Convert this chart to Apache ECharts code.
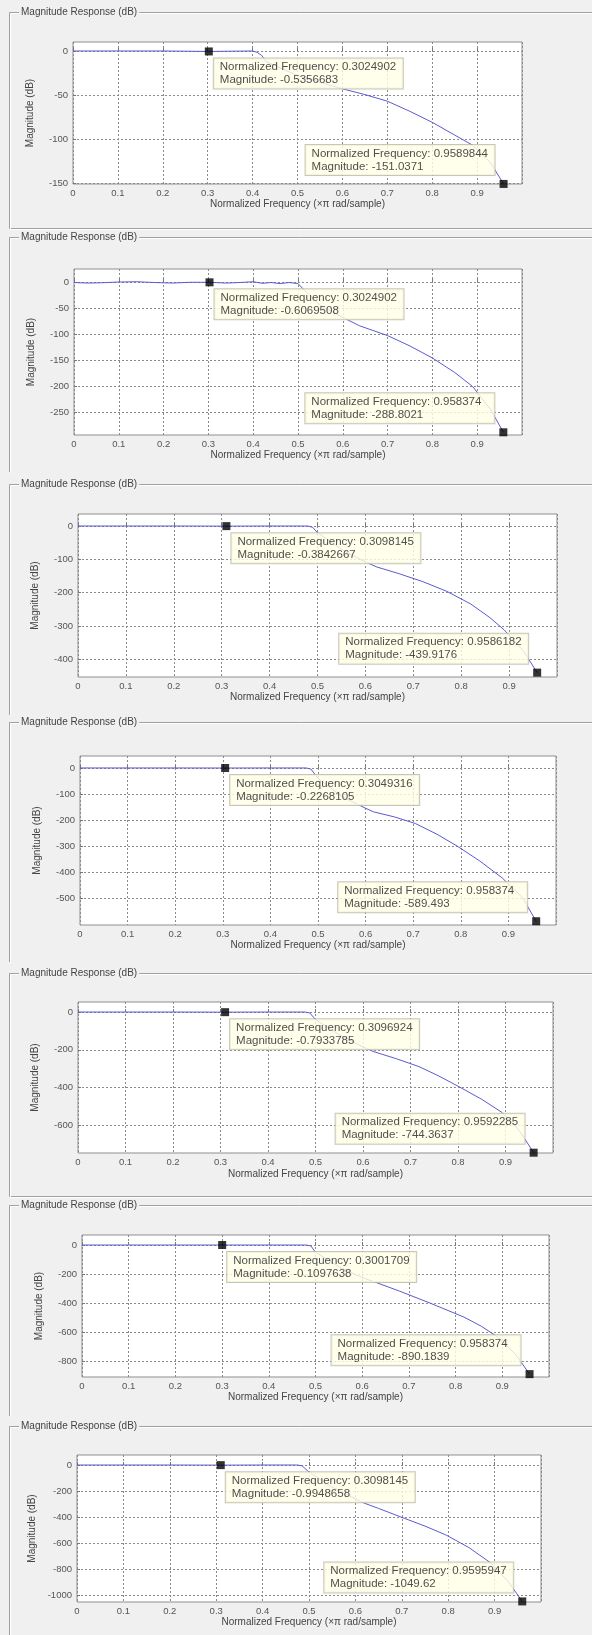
<!DOCTYPE html>
<html>
<head>
<meta charset="utf-8">
<script src="https://cdn.jsdelivr.net/npm/echarts@6/dist/echarts.min.js"></script>
<style>
  html, body { margin: 0; padding: 0; background: #f0f0f0; }
  #main { width: 592px; height: 1635px; }
</style>
</head>
<body>
<div id="main"></div>
<script>
// magnitude response samples (freq in x pi rad/sample, magnitude in dB)
const freq1 = [0, 0.1, 0.2, 0.3024902, 0.4, 0.41, 0.42, 0.43, 0.5, 0.6, 0.65, 0.7, 0.75, 0.8, 0.85, 0.89, 0.93, 0.9589844];
const mag1  = [0, 0, 0, -0.5356683, 0, -1.5, -5, -12, -28, -43, -49.5, -57, -68.5, -81, -95.5, -107, -127, -151.0371];

const freq2 = [0, 0.03, 0.06, 0.1, 0.14, 0.18, 0.22, 0.26, 0.3024902, 0.34, 0.37, 0.4, 0.42, 0.44, 0.46, 0.48, 0.5, 0.51, 0.55, 0.6, 0.637, 0.7, 0.75, 0.8, 0.85, 0.89, 0.93, 0.958374];
const mag2  = [-1, -2, -1.5, 0, 0.5, -1, -2, -0.5, -0.6069508, -2, -1, 0.5, -2.5, -1, -3, -1, -3, -12, -45, -68, -84, -103, -123, -146, -174, -201, -245, -288.8021];

const freq3 = [0, 0.1, 0.2, 0.3098145, 0.4, 0.48, 0.49, 0.5, 0.55, 0.6, 0.624, 0.67, 0.72, 0.77, 0.82, 0.86, 0.89, 0.93, 0.9586182];
const mag3  = [0, 0, 0, -0.3842667, 0, 0, -4, -20, -70, -108, -123, -143, -167, -196, -234, -275, -312, -375, -439.9176];

const freq4 = [0, 0.1, 0.2, 0.3049316, 0.4, 0.475, 0.485, 0.5, 0.55, 0.6, 0.617, 0.66, 0.705, 0.75, 0.792, 0.84, 0.887, 0.93, 0.958374];
const mag4  = [0, 0, 0, -0.2268105, 0, 0, -4, -40, -110, -155, -169, -188, -214, -255, -300, -358, -423, -500, -589.493];

const freq5 = [0, 0.1, 0.2, 0.3096924, 0.4, 0.478, 0.488, 0.5, 0.55, 0.6, 0.623, 0.67, 0.718, 0.76, 0.802, 0.85, 0.893, 0.93, 0.9592285];
const mag5  = [0, 0, 0, -0.7933785, 0, 0, -5, -40, -120, -185, -210, -247, -289, -339, -395, -462, -532, -630, -744.3637];

const freq6 = [0, 0.1, 0.2, 0.3001709, 0.4, 0.48, 0.49, 0.5, 0.55, 0.6, 0.621, 0.68, 0.745, 0.818, 0.855, 0.89, 0.93, 0.958374];
const mag6  = [0, 0, 0, -0.1097638, 0, 0, -6, -50, -150, -225, -248, -318, -400, -497, -560, -634, -760, -890.1839];

const freq7 = [0, 0.1, 0.2, 0.3098145, 0.4, 0.475, 0.485, 0.5, 0.55, 0.6, 0.618, 0.65, 0.698, 0.75, 0.795, 0.845, 0.892, 0.93, 0.9595947];
const mag7  = [0, 0, 0, -0.9948658, 0, 0, -6, -55, -170, -260, -292, -334, -400, -470, -538, -636, -754, -900, -1049.62];

// data tips (passband point, last stopband point)
const tipFreq1 = [0.3024902, 0.9589844], tipMag1 = [-0.5356683, -151.0371];
const tipFreq2 = [0.3024902, 0.958374],  tipMag2 = [-0.6069508, -288.8021];
const tipFreq3 = [0.3098145, 0.9586182], tipMag3 = [-0.3842667, -439.9176];
const tipFreq4 = [0.3049316, 0.958374],  tipMag4 = [-0.2268105, -589.493];
const tipFreq5 = [0.3096924, 0.9592285], tipMag5 = [-0.7933785, -744.3637];
const tipFreq6 = [0.3001709, 0.958374],  tipMag6 = [-0.1097638, -890.1839];
const tipFreq7 = [0.3098145, 0.9595947], tipMag7 = [-0.9948658, -1049.62];

// axes
const yTicks1 = [0, -50, -100, -150];
const yTicks2 = [0, -50, -100, -150, -200, -250];
const yTicks3 = [0, -100, -200, -300, -400];
const yTicks4 = [0, -100, -200, -300, -400, -500];
const yTicks5 = [0, -200, -400, -600];
const yTicks6 = [0, -200, -400, -600, -800];
const yTicks7 = [0, -200, -400, -600, -800, -1000];
const yMin = [-151.1, -294, -453, -604, -746, -910, -1054];
const yMax = [10.2, 25, 36, 46, 53, 69, 77];

const FONT = '"Liberation Sans", Arial, sans-serif';
const BG = '#f0f0f0';
const TIP_W = 177;

// layout of each panel: plot rect + group box top/bottom
const panels = [
  { freq: freq1, mag: mag1, tf: tipFreq1, tm: tipMag1, yt: yTicks1, grid: [73, 42, 449, 142],  frame: [12, 228, true],    nameGap: 12 },
  { freq: freq2, mag: mag2, tf: tipFreq2, tm: tipMag2, yt: yTicks2, grid: [74, 269, 448, 166], frame: [237, 472, false],  nameGap: 15 },
  { freq: freq3, mag: mag3, tf: tipFreq3, tm: tipMag3, yt: yTicks3, grid: [78, 514, 479, 163], frame: [484, 715, false],  nameGap: 15 },
  { freq: freq4, mag: mag4, tf: tipFreq4, tm: tipMag4, yt: yTicks4, grid: [80, 756, 476, 169], frame: [722, 962, false],  nameGap: 15 },
  { freq: freq5, mag: mag5, tf: tipFreq5, tm: tipMag5, yt: yTicks5, grid: [78, 1002, 475, 151], frame: [973, 1196, true],  nameGap: 16 },
  { freq: freq6, mag: mag6, tf: tipFreq6, tm: tipMag6, yt: yTicks6, grid: [82, 1235, 467, 142], frame: [1205, 1416, false], nameGap: 14 },
  { freq: freq7, mag: mag7, tf: tipFreq7, tm: tipMag7, yt: yTicks7, grid: [77, 1455, 464, 147], frame: [1426, 1640, false], nameGap: 13 }
];

const grids = [], xAxes = [], yAxes = [], series = [], graphic = [];
const gridLine = { show: true, lineStyle: { color: '#8a8a8a', type: [2, 2], width: 1 } };

panels.forEach((p, i) => {
  const [left, top, width, height] = p.grid;
  const [ft, fb, bottomLine] = p.frame;

  // group box ("Magnitude Response (dB)")
  const pts = bottomLine ? [[592, fb + 0.5], [9.5, fb + 0.5], [9.5, ft + 0.5], [592, ft + 0.5]]
                         : [[9.5, fb], [9.5, ft + 0.5], [592, ft + 0.5]];
  graphic.push({ type: 'polyline', silent: true, z: 1,
    shape: { points: pts }, style: { stroke: '#a0a0a0', fill: null, lineWidth: 1 } });
  graphic.push({ type: 'polyline', silent: true, z: 1,
    shape: { points: pts.map(q => [q[0] + 1, q[1] + 1]) }, style: { stroke: '#ffffff', fill: null, lineWidth: 1 } });
  graphic.push({ type: 'text', silent: true, z: 2, left: 19, top: ft - 6,
    style: { text: 'Magnitude Response (dB)', font: '10px ' + FONT, fill: '#444',
             backgroundColor: BG, padding: [1, 2] } });

  grids.push({ left: left, top: top, width: width, height: height, show: true,
    backgroundColor: '#ffffff', borderColor: '#8f8f8f', borderWidth: 1 });

  xAxes.push({
    gridIndex: i, type: 'value', min: 0, max: 1, interval: 0.1,
    axisLine: { show: false },
    axisTick: { show: true, inside: true, length: 3, lineStyle: { color: '#777' } },
    axisLabel: { color: '#555', fontSize: 9.5, fontFamily: FONT, margin: 4, showMaxLabel: false,
                 formatter: v => String(+v.toFixed(1)) },
    splitLine: gridLine,
    name: 'Normalized Frequency (\u00d7\u03c0 rad/sample)', nameLocation: 'middle', nameGap: p.nameGap,
    nameTextStyle: { color: '#444', fontSize: 10, fontFamily: FONT }
  });

  yAxes.push({
    gridIndex: i, type: 'value', min: yMin[i], max: yMax[i],
    axisLine: { show: false },
    axisTick: { show: true, inside: true, length: 3, customValues: p.yt, lineStyle: { color: '#777' } },
    axisLabel: { color: '#555', fontSize: 9.5, fontFamily: FONT, margin: 5, customValues: p.yt,
                 formatter: v => String(v) },
    splitLine: gridLine,
    name: 'Magnitude (dB)', nameLocation: 'middle', nameGap: 38,
    nameTextStyle: { color: '#444', fontSize: 10, fontFamily: FONT }
  });

  series.push({
    type: 'line', xAxisIndex: i, yAxisIndex: i, silent: true, z: 2,
    showSymbol: false, clip: true,
    lineStyle: { color: '#5b5bd0', width: 1 },
    data: p.freq.map((f, k) => [f, p.mag[k]])
  });

  series.push({
    type: 'scatter', xAxisIndex: i, yAxisIndex: i, silent: true, z: 5, clip: false,
    symbol: 'rect', symbolSize: 8, itemStyle: { color: '#000' },
    label: {
      show: true, fontSize: 11.5, fontFamily: FONT, color: '#222', lineHeight: 13,
      width: TIP_W, overflow: 'none', align: 'left', verticalAlign: 'top',
      backgroundColor: '#ffffe6', borderColor: '#b9b9a8', borderWidth: 1, padding: [2, 6, 2, 6],
      formatter: d => 'Normalized Frequency: ' + d.value[0] + '\nMagnitude: ' + d.value[1]
    },
    data: [
      { value: [p.tf[0], p.tm[0]], label: { position: [9, 11] } },
      { value: [p.tf[1], p.tm[1]], label: { position: [-5 - TIP_W - 12, -35] } }
    ]
  });
});

const chart = echarts.init(document.getElementById('main'));
chart.setOption({
  backgroundColor: BG,
  animation: false,
  textStyle: { fontFamily: FONT },
  grid: grids,
  xAxis: xAxes,
  yAxis: yAxes,
  series: series,
  graphic: graphic
});
</script>
</body>
</html>
